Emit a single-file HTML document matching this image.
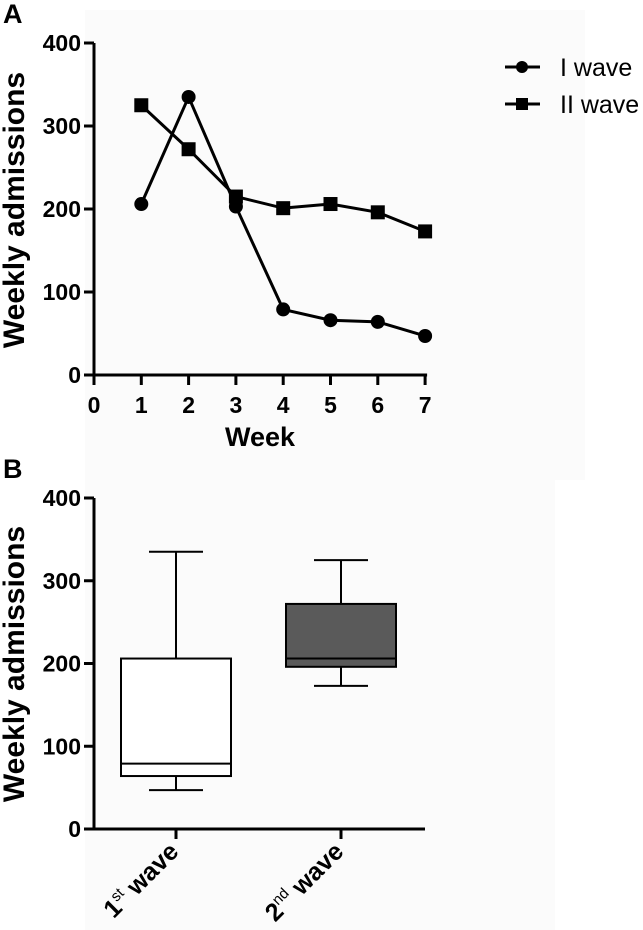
<!DOCTYPE html>
<html><head><meta charset="utf-8"><style>
html,body{margin:0;padding:0;background:#fff;}
svg{display:block;font-family:"Liberation Sans",sans-serif;}
.t{font-weight:bold;}
</style></head><body>
<svg width="643" height="930" viewBox="0 0 643 930">
<rect x="0" y="0" width="643" height="930" fill="#fff"/>
<rect x="85" y="10" width="500" height="470" fill="#fbfbfb"/>
<rect x="85" y="470" width="470" height="460" fill="#fbfbfb"/>
<g id="A"></g>
<g id="B"></g>
</svg>
<script>
const weeks=[1,2,3,4,5,6,7];
const wave1=[206,335,203,79,66,64,47];
const wave2=[325,272,215,201,206,196,173];
const xTicks=[0,1,2,3,4,5,6,7];
const yTicks=[0,100,200,300,400];
const boxCats=["1st","2nd"];
const boxMin=[47,173];
const boxQ1=[64,196];
const boxMed=[79,206];
const boxQ3=[206,272];
const boxMax=[335,325];
const boxFill=["#ffffff","#5a5a5a"];

const NS="http://www.w3.org/2000/svg";
function mk(p,tag,at,txt){const e=document.createElementNS(NS,tag);for(const k in at)e.setAttribute(k,at[k]);if(txt!=null)e.textContent=txt;p.appendChild(e);return e;}

// Panel A
const A=document.getElementById('A');
const ax=v=>94+v*47.3, ay=v=>375-v*0.83;
let e;
e=mk(A,'text',{x:3,y:23,class:'t',style:'font-size:27px'},'A');


e=mk(A,'line',{x1:94,y1:ay(400),x2:94,y2:375,stroke:'#000','stroke-width':3});


e=mk(A,'line',{x1:ax(0),y1:375,x2:ax(7)+2,y2:375,stroke:'#000','stroke-width':3});


yTicks.forEach(v=>{
 e=mk(A,'line',{x1:84,y1:ay(v),x2:94,y2:ay(v),stroke:'#000','stroke-width':3});
 
 
 e=mk(A,'text',{x:81,y:ay(v)+8,class:'t','text-anchor':'end',style:'font-size:23px'},v);
 
 
});
xTicks.forEach(v=>{
 e=mk(A,'line',{x1:ax(v),y1:375,x2:ax(v),y2:385,stroke:'#000','stroke-width':3});
 
 
 e=mk(A,'text',{x:ax(v),y:413,class:'t','text-anchor':'middle',style:'font-size:23px'},v);
 
 
});
e=mk(A,'text',{x:260,y:446,class:'t','text-anchor':'middle',style:'font-size:27px'},'Week');


e=mk(A,'text',{transform:'translate(24,210) rotate(-90)',class:'t','text-anchor':'middle',style:'font-size:30px'},'Weekly admissions');


function series(vals,shape,name){
 const pts=weeks.map((w,i)=>ax(w)+','+ay(vals[i])).join(' ');
 e=mk(A,'polyline',{points:pts,fill:'none',stroke:'#000','stroke-width':3});
 
 
 weeks.forEach((w,i)=>{
  if(shape==='c') e=mk(A,'circle',{cx:ax(w),cy:ay(vals[i]),r:7,fill:'#000'});
  else e=mk(A,'rect',{x:ax(w)-7,y:ay(vals[i])-7,width:14,height:14,fill:'#000'});
  
  
 });
}
series(wave1,'c','wave1');
series(wave2,'s','wave2');
// legend
e=mk(A,'line',{x1:505,y1:67,x2:540,y2:67,stroke:'#000','stroke-width':3});


e=mk(A,'circle',{cx:522,cy:67,r:6,fill:'#000'});


e=mk(A,'text',{x:560,y:76,style:'font-size:25px'},'I wave');


e=mk(A,'line',{x1:505,y1:104,x2:540,y2:104,stroke:'#000','stroke-width':3});


e=mk(A,'rect',{x:516,y:98,width:12,height:12,fill:'#000'});


e=mk(A,'text',{x:560,y:113,style:'font-size:25px'},'II wave');



// Panel B
const B=document.getElementById('B');
const by=v=>829-v*0.8275;
const bx=[176,341];
e=mk(B,'text',{x:3,y:478,class:'t',style:'font-size:27px'},'B');


e=mk(B,'line',{x1:94,y1:by(400),x2:94,y2:829,stroke:'#000','stroke-width':3});


e=mk(B,'line',{x1:94,y1:829,x2:425,y2:829,stroke:'#000','stroke-width':3});


yTicks.forEach(v=>{
 e=mk(B,'line',{x1:84,y1:by(v),x2:94,y2:by(v),stroke:'#000','stroke-width':3});
 
 
 e=mk(B,'text',{x:81,y:by(v)+8,class:'t','text-anchor':'end',style:'font-size:23px'},v);
 
 
});
e=mk(B,'text',{transform:'translate(24,664) rotate(-90)',class:'t','text-anchor':'middle',style:'font-size:30px'},'Weekly admissions');


boxCats.forEach((c,i)=>{
 const cx=bx[i];
 e=mk(B,'line',{x1:cx,y1:829,x2:cx,y2:839,stroke:'#000','stroke-width':3});
 
 
 e=mk(B,'line',{x1:cx,y1:by(boxMax[i]),x2:cx,y2:by(boxMin[i]),stroke:'#000','stroke-width':2});
 
 
 [boxMax[i],boxMin[i]].forEach(v=>{
  e=mk(B,'line',{x1:cx-27,y1:by(v),x2:cx+27,y2:by(v),stroke:'#000','stroke-width':2});
  
  
 });
 e=mk(B,'rect',{x:cx-55,y:by(boxQ3[i]),width:110,height:by(boxQ1[i])-by(boxQ3[i]),fill:boxFill[i],stroke:'#000','stroke-width':2});
 
 
 e=mk(B,'line',{x1:cx-55,y1:by(boxMed[i]),x2:cx+55,y2:by(boxMed[i]),stroke:'#000','stroke-width':2});
 
 
 const t=mk(B,'text',{transform:`translate(${cx+4},${853}) rotate(-45)`,class:'t','text-anchor':'end',style:'font-size:25px'});
 
 
 mk(t,'tspan',{},c[0]);
 mk(t,'tspan',{style:'font-size:15px;font-weight:normal',dy:'-10'},c.slice(1));
 mk(t,'tspan',{dy:'10'},' wave');
});
</script>
</body></html>
